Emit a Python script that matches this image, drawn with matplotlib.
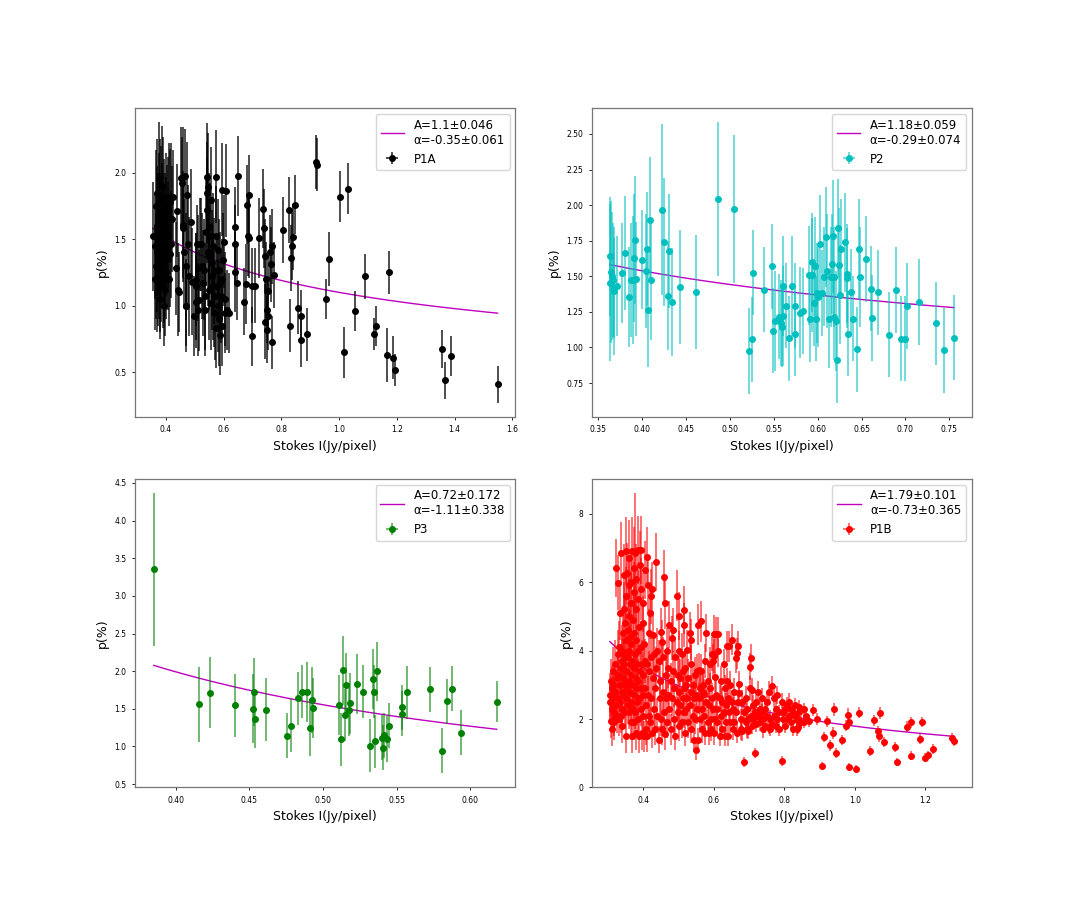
import numpy as np
import matplotlib
matplotlib.use("Agg")
import matplotlib.pyplot as plt
from matplotlib.colors import to_rgba

# ---------------- data ----------------
p1a_x = [0.355,0.361,0.363,0.365,0.366,0.368,0.369,0.370,0.371,0.372,
         0.373,0.375,0.376,0.377,0.378,0.379,0.380,0.381,0.382,0.383,
         0.384,0.386,0.387,0.388,0.389,0.390,0.391,0.392,0.393,0.394,
         0.395,0.396,0.397,0.398,0.400,0.401,0.402,0.404,0.405,0.407,
         0.408,0.409,0.410,0.412,0.414,0.416,0.417,0.419,0.421,0.423,
         0.436,0.439,0.441,0.444,0.452,0.455,0.459,0.461,0.461,0.464,
         0.467,0.469,0.469,0.471,0.473,0.476,0.480,0.486,0.489,
         0.499,0.503,0.504,0.506,0.509,0.511,0.513,0.515,0.519,0.522,
         0.526,0.530,0.533,0.535,0.537,0.539,0.541,0.542,0.543,0.545,
         0.546,0.548,0.549,0.551,0.553,0.555,0.557,0.559,0.561,0.563,
         0.564,0.566,0.568,0.570,0.572,0.574,0.575,0.577,0.579,0.581,
         0.583,0.585,0.587,0.589,0.591,0.593,0.595,0.596,0.599,0.602,
         0.604,0.605,0.607,0.611,0.617,
         0.638,0.640,0.640,0.648,0.649,0.671,0.676,0.682,0.684,0.689,
         0.689,0.698,0.700,0.708,0.721,0.736,0.739,0.743,0.744,0.746,
         0.749,0.751,0.753,0.755,0.761,0.764,0.766,0.769,0.776,0.806,
         0.826,0.830,0.835,0.837,0.839,0.849,0.858,0.869,0.869,0.889,
         0.919,0.924,0.955,0.965,1.002,1.018,1.032,1.056,1.091,1.121,
         1.127,1.165,1.174,1.188,1.195,1.357,1.367,1.386,1.549]
p1a_y = [1.52,1.20,1.45,1.75,1.30,1.60,1.10,1.85,1.40,1.55,
         1.25,1.95,1.65,1.35,1.15,1.50,1.80,1.05,1.70,1.45,
         1.28,1.90,1.62,1.38,1.18,1.55,1.82,1.48,1.00,1.70,
         1.32,1.60,1.12,1.42,1.75,1.25,1.52,1.40,1.66,1.72,
         1.35,1.53,1.82,1.20,1.39,1.78,1.82,1.46,1.65,1.82,
         1.28,1.715,1.12,1.10,1.96,1.92,1.61,1.58,1.965,1.40,
         1.975,1.295,1.00,1.00,1.83,1.46,1.22,1.63,1.18,
         0.92,1.145,1.195,1.03,1.46,1.285,0.97,1.04,1.46,1.46,
         1.30,1.17,1.27,1.07,0.97,1.55,1.97,1.72,1.85,1.895,
         1.40,1.595,1.37,1.12,1.52,1.02,1.795,1.32,1.22,1.45,
         1.145,1.07,1.26,0.945,1.97,0.83,1.52,1.15,1.00,1.42,
         1.27,0.90,1.17,0.78,1.07,1.87,1.20,0.845,1.345,1.48,
         1.05,0.945,1.865,0.97,0.945,
         1.59,1.46,1.25,1.17,1.975,1.03,1.165,1.76,1.52,1.51,
         1.83,0.77,1.15,1.15,1.51,1.73,1.58,1.37,0.88,1.20,
         0.97,0.82,1.11,0.92,1.40,1.31,0.725,1.445,1.23,1.57,
         1.72,0.85,1.36,1.445,1.515,1.76,0.985,0.92,0.74,0.785,
         2.08,2.06,1.05,1.35,1.82,0.65,1.88,0.96,1.22,0.79,
         0.85,0.63,1.25,0.61,0.52,0.675,0.44,0.62,0.41]
p1a_err = [0.41,0.38,0.40,0.42,0.40,0.45,0.30,0.40,0.45,0.45,
           0.40,0.43,0.50,0.45,0.35,0.50,0.45,0.30,0.50,0.40,
           0.40,0.45,0.45,0.40,0.35,0.45,0.45,0.40,0.30,0.40,
           0.45,0.40,0.35,0.40,0.40,0.35,0.45,0.40,0.40,0.40,
           0.38,0.40,0.40,0.35,0.40,0.40,0.40,0.40,0.40,0.35,
           0.35,0.35,0.35,0.30,0.38,0.35,0.40,0.40,0.38,0.40,
           0.35,0.40,0.35,0.30,0.40,0.45,0.45,0.40,0.40,
           0.30,0.40,0.35,0.35,0.30,0.40,0.35,0.38,0.35,0.35,
           0.40,0.40,0.38,0.40,0.35,0.40,0.40,0.40,0.38,0.40,
           0.40,0.40,0.40,0.38,0.40,0.35,0.40,0.40,0.40,0.40,
           0.40,0.38,0.40,0.35,0.35,0.30,0.38,0.35,0.35,0.38,
           0.38,0.35,0.38,0.30,0.35,0.35,0.30,0.30,0.35,0.35,
           0.35,0.30,0.35,0.30,0.30,
           0.30,0.30,0.30,0.28,0.30,0.25,0.30,0.30,0.30,0.30,
           0.30,0.22,0.28,0.28,0.30,0.30,0.30,0.28,0.28,0.28,
           0.25,0.25,0.28,0.25,0.28,0.28,0.20,0.28,0.25,0.25,
           0.25,0.20,0.25,0.25,0.25,0.22,0.20,0.20,0.20,0.20,
           0.20,0.20,0.15,0.20,0.19,0.19,0.19,0.15,0.17,0.12,
           0.15,0.20,0.16,0.16,0.12,0.14,0.14,0.15,0.14]

p2_x = [0.3640,0.3636,0.3650,0.3660,0.3670,0.3680,0.3690,0.3720,0.3780,0.3810,
        0.3860,0.3880,0.3900,0.3910,0.3920,0.3940,0.4000,0.4050,0.4060,0.4070,
        0.4090,0.4100,0.4230,0.4250,0.4300,0.4310,0.4350,0.4440,0.4620,0.4870,
        0.5050,0.5220,0.5250,0.5270,0.5390,0.5480,0.5490,0.5520,0.5560,0.5580,
        0.5590,0.5610,0.5610,0.5640,0.5680,0.5710,0.5740,0.5740,0.5800,0.5830,
        0.5900,0.5910,0.5940,0.5940,0.5960,0.5970,0.5980,0.5990,0.6010,0.6030,
        0.6050,0.6070,0.6100,0.6110,0.6130,0.6150,0.6160,0.6180,0.6190,0.6190,
        0.6210,0.6220,0.6230,0.6240,0.6250,0.6270,0.6310,0.6330,0.6340,0.6350,
        0.6380,0.6400,0.6450,0.6470,0.6480,0.6550,0.6610,0.6620,0.6690,0.6810,
        0.6890,0.6950,0.7000,0.7020,0.7155,0.7350,0.7440,0.7550]
p2_y = [1.640,1.456,1.530,1.500,1.477,1.395,1.420,1.430,1.523,1.664,
        1.355,1.472,1.472,1.628,1.752,1.480,1.617,1.535,1.692,1.262,
        1.897,1.472,1.967,1.738,1.360,1.680,1.322,1.423,1.388,2.044,
        1.972,0.974,1.056,1.526,1.407,1.570,1.119,1.185,1.217,1.173,
        1.142,1.220,1.432,1.294,1.065,1.432,1.294,1.098,1.243,1.255,
        1.507,1.197,1.598,1.507,1.313,1.570,1.203,1.383,1.355,1.724,
        1.383,1.498,1.776,1.537,1.203,1.493,1.586,1.780,1.493,1.215,
        1.185,0.911,1.836,1.577,1.372,1.692,1.738,1.519,1.488,1.096,
        1.393,1.203,0.986,1.692,1.493,1.622,1.414,1.208,1.388,1.089,
        1.404,1.061,1.061,1.290,1.320,1.170,0.979,1.068]
p2_err = [0.42,0.55,0.50,0.45,0.40,0.45,0.35,0.35,0.35,0.40,
          0.35,0.40,0.45,0.45,0.45,0.40,0.35,0.40,0.40,0.40,
          0.44,0.42,0.60,0.45,0.38,0.40,0.38,0.40,0.40,0.54,
          0.52,0.30,0.30,0.30,0.30,0.30,0.30,0.35,0.30,0.30,
          0.28,0.35,0.35,0.30,0.30,0.35,0.30,0.30,0.32,0.30,
          0.35,0.30,0.35,0.40,0.30,0.35,0.30,0.35,0.35,0.35,
          0.30,0.35,0.35,0.40,0.35,0.35,0.35,0.40,0.35,0.30,
          0.35,0.30,0.35,0.40,0.35,0.35,0.35,0.35,0.35,0.30,
          0.30,0.30,0.30,0.35,0.35,0.30,0.30,0.30,0.30,0.30,
          0.30,0.30,0.30,0.30,0.30,0.29,0.30,0.30]

p3_x = [0.385,0.416,0.4234,0.440,0.4525,0.453,0.4536,0.4614,0.4755,0.478,
        0.4827,0.4855,0.489,0.4914,0.4925,0.493,0.511,0.5123,0.5139,0.5148,
        0.5155,0.5177,0.518,0.523,0.527,0.5318,0.534,0.5343,0.535,0.537,
        0.5398,0.5407,0.5416,0.5434,0.5448,0.5534,0.5534,0.557,0.573,0.5809,
        0.5839,0.5873,0.5939,0.618]
p3_y = [3.35,1.562,1.712,1.549,1.50,1.721,1.367,1.487,1.146,1.274,
        1.642,1.726,1.726,1.248,1.619,1.513,1.549,1.093,2.013,1.42,
        1.823,1.491,1.571,1.832,1.726,1.013,1.898,1.73,1.07,1.996,
        1.115,0.982,1.15,1.10,1.274,1.522,1.438,1.717,1.761,0.942,
        1.602,1.765,1.181,1.597]
p3_err = [1.02,0.50,0.47,0.42,0.46,0.45,0.39,0.42,0.30,0.35,
          0.35,0.35,0.40,0.38,0.44,0.40,0.40,0.35,0.46,0.35,
          0.42,0.35,0.40,0.40,0.35,0.35,0.40,0.35,0.35,0.39,
          0.30,0.30,0.30,0.30,0.30,0.30,0.30,0.35,0.30,0.30,
          0.30,0.30,0.30,0.27]

# P1B: dense core (I <= 0.40)
p1b_x_core = [0.305,0.305,0.308,0.308,0.310,0.310,0.310,0.313,0.313,0.316,
              0.316,0.318,0.318,0.320,0.320,0.322,0.322,0.325,0.325,0.327,
              0.327,0.329,0.329,0.331,0.331,0.333,0.333,0.333,0.336,0.336,
              0.336,0.338,0.338,0.340,0.340,0.340,0.342,0.342,0.344,0.344,
              0.344,0.346,0.346,0.348,0.348,0.348,0.350,0.350,0.350,0.352,
              0.352,0.352,0.354,0.354,0.354,0.356,0.356,0.358,0.358,0.358,
              0.360,0.360,0.360,0.362,0.362,0.362,0.364,0.364,0.364,0.366,
              0.366,0.366,0.368,0.368,0.368,0.370,0.370,0.370,0.372,0.372,
              0.372,0.374,0.374,0.374,0.376,0.376,0.376,0.378,0.378,0.378,
              0.380,0.380,0.380,0.382,0.382,0.384,0.384,0.384,0.386,0.386,
              0.388,0.388,0.388,0.390,0.390,0.392,0.392,0.394,0.394,0.394,
              0.396,0.396,0.398,0.398,0.400,0.400,0.400]
p1b_y_core = [2.7,2.5,1.95,3.1,2.3,2.9,1.7,2.6,3.4,2.0,
              2.2,3.0,1.9,2.8,3.6,2.4,6.4,3.2,2.1,5.98,
              3.9,2.6,3.3,2.0,4.1,5.1,3.0,2.5,6.84,3.5,
              2.1,4.0,2.8,3.7,2.3,1.8,4.5,3.2,5.2,2.7,
              3.9,6.2,3.6,4.8,2.2,3.0,6.9,4.3,2.6,5.6,
              3.4,1.5,6.25,3.8,2.9,4.6,2.4,5.9,3.1,4.0,
              6.7,5.0,2.2,4.4,3.6,2.8,6.0,3.3,1.9,5.4,
              4.2,2.5,6.9,3.7,1.5,4.9,3.0,2.3,6.4,5.7,
              3.5,4.5,2.7,1.9,6.86,3.9,2.2,5.2,3.2,2.9,
              4.3,6.1,1.6,3.6,2.5,5.5,4.0,2.0,6.93,3.1,
              4.7,2.6,1.5,6.5,3.4,5.8,2.3,6.93,4.1,2.9,
              3.6,1.6,4.8,2.7,3.3,2.1,5.4]
p1b_e_core = [0.65,0.6,0.5,0.65,0.5,0.65,0.5,0.65,0.7,0.5,
              0.5,0.65,0.5,0.65,0.7,0.5,0.85,0.65,0.5,0.8,
              0.7,0.6,0.65,0.5,0.75,0.8,0.65,0.6,0.9,0.7,
              0.5,0.75,0.65,0.7,0.5,0.5,0.8,0.65,0.8,0.6,
              0.7,0.9,0.7,0.8,0.5,0.65,1.0,0.8,0.6,0.85,
              0.65,0.5,0.9,0.7,0.6,0.8,0.55,0.9,0.65,0.75,
              1.1,0.8,0.5,0.8,0.7,0.6,0.9,0.65,0.5,0.85,
              0.75,0.55,1.0,0.7,0.5,0.8,0.65,0.5,1.2,0.9,
              0.7,0.8,0.6,0.5,1.75,0.7,0.5,0.85,0.65,0.6,
              0.8,1.0,0.5,0.7,0.55,0.85,0.75,0.5,1.0,0.65,
              0.8,0.6,0.5,1.0,0.65,0.9,0.5,1.0,0.75,0.6,
              0.7,0.5,0.8,0.6,0.65,0.5,0.85]

# P1B: middle (0.40 - 0.60)
p1b_x_mid = [0.402,0.402,0.405,0.405,0.405,0.408,0.408,0.411,0.411,0.411,
             0.413,0.413,0.416,0.416,0.416,0.419,0.419,0.421,0.421,0.421,
             0.424,0.424,0.427,0.427,0.430,0.430,0.433,0.433,0.437,0.437,
             0.440,0.440,0.443,0.443,0.446,0.446,0.449,0.449,0.453,0.453,
             0.456,0.456,0.458,0.458,0.460,0.460,0.463,0.463,0.466,0.466,
             0.470,0.470,0.474,0.474,0.477,0.477,0.480,0.480,0.483,0.483,
             0.487,0.487,0.490,0.490,0.494,0.494,0.497,0.497,0.500,0.500,
             0.501,0.501,0.505,0.505,0.509,0.509,0.512,0.512,0.514,0.514,
             0.516,0.516,0.519,0.519,0.522,0.522,0.524,0.524,0.527,0.527,
             0.531,0.531,0.534,0.534,0.536,0.536,0.540,0.540,0.543,0.543,
             0.546,0.546,0.549,0.549,0.552,0.552,0.555,0.555,0.558,0.558,
             0.561,0.561,0.564,0.564,0.567,0.567,0.570,0.570,0.573,0.573,
             0.576,0.576,0.579,0.579,0.582,0.582,0.585,0.585,0.588,0.588,
             0.591,0.591,0.594,0.594,0.597,0.597,0.600,0.600,0.600]
p1b_y_mid = [4.2,1.5,6.35,2.9,3.7,2.4,1.7,6.72,3.6,1.5,
             5.92,2.7,4.5,3.4,2.1,5.1,1.9,5.58,3.8,2.6,
             5.8,1.6,4.44,3.2,2.3,3.9,2.9,1.7,6.58,3.5,
             2.1,4.0,3.7,1.4,2.6,3.1,4.54,2.0,4.24,1.7,
             3.8,2.8,6.14,2.2,5.39,1.55,3.3,2.6,4.0,1.9,
             2.7,3.5,4.76,2.3,3.1,1.7,4.37,2.6,4.6,3.4,
             2.0,2.9,3.8,1.5,5.6,2.5,3.3,2.2,3.98,1.8,
             5.01,2.8,3.2,2.4,3.9,1.9,2.6,3.4,5.19,2.2,
             4.74,2.9,3.5,1.6,2.3,3.0,4.01,2.6,1.9,3.2,
             4.52,2.4,2.8,1.7,4.32,3.6,2.1,3.0,2.6,1.4,
             3.3,2.0,1.1,2.7,3.4,2.3,4.76,1.4,3.43,2.6,
             2.0,2.9,3.4,4.86,2.3,1.7,2.8,3.0,2.73,2.1,
             3.7,1.6,4.52,2.5,1.9,3.1,2.4,1.6,2.9,3.6,
             2.0,1.7,3.9,2.6,3.68,2.3,4.49,1.6,3.83]
p1b_e_mid = [0.7,0.45,0.85,0.6,0.65,0.5,0.45,0.9,0.6,0.45,
             0.8,0.55,0.7,0.6,0.5,0.75,0.45,0.8,0.6,0.55,
             0.8,0.45,0.7,0.6,0.5,0.65,0.55,0.45,0.85,0.6,
             0.5,0.65,0.6,0.4,0.55,0.6,0.7,0.5,0.65,0.45,
             0.6,0.55,0.8,0.5,0.75,0.45,0.6,0.5,0.65,0.45,
             0.5,0.6,0.7,0.5,0.55,0.45,0.65,0.5,0.65,0.6,
             0.45,0.55,0.6,0.4,0.75,0.5,0.55,0.45,0.6,0.45,
             0.7,0.5,0.55,0.5,0.6,0.45,0.5,0.55,0.7,0.45,
             0.65,0.5,0.55,0.4,0.45,0.5,0.6,0.5,0.45,0.55,
             0.6,0.45,0.5,0.4,0.6,0.55,0.45,0.5,0.5,0.35,
             0.5,0.45,0.3,0.5,0.5,0.45,0.6,0.35,0.5,0.45,
             0.4,0.5,0.5,0.6,0.45,0.4,0.5,0.5,0.45,0.4,
             0.5,0.35,0.55,0.45,0.4,0.5,0.45,0.35,0.45,0.5,
             0.4,0.35,0.5,0.45,0.5,0.4,0.55,0.35,0.5]

# P1B: outer (0.60 - 0.89)
p1b_x_out = [0.603,0.603,0.607,0.607,0.610,0.610,0.613,0.613,0.617,0.617,
             0.620,0.620,0.624,0.624,0.628,0.628,0.631,0.631,0.634,0.634,
             0.636,0.636,0.640,0.640,0.644,0.644,0.647,0.647,0.650,0.650,
             0.654,0.654,0.658,0.658,0.662,0.662,0.665,0.665,0.669,0.669,
             0.672,0.672,0.676,0.676,0.680,0.680,0.685,0.685,0.690,0.690,
             0.694,0.694,0.697,0.697,0.703,0.703,0.705,0.705,0.708,0.708,
             0.712,0.712,0.717,0.717,0.720,0.720,0.725,0.725,0.730,0.730,
             0.735,0.735,0.740,0.740,0.745,0.745,0.750,0.750,0.755,0.755,
             0.760,0.760,0.766,0.766,0.770,0.770,0.775,0.775,0.780,0.780,
             0.785,0.785,0.792,0.792,0.797,0.797,0.803,0.803,0.808,0.808,
             0.813,0.813,0.818,0.818,0.824,0.824,0.830,0.830,0.837,0.837,
             0.839,0.839,0.842,0.842,0.848,0.855,0.856,0.862,0.871,0.882]
p1b_y_out = [3.24,2.0,4.47,2.7,2.3,1.9,4.49,3.98,2.6,1.5,
             3.1,2.1,2.5,1.7,3.6,2.2,1.5,2.9,2.4,1.9,
             4.12,3.1,1.5,2.6,4.12,2.2,1.9,3.0,4.32,2.5,
             1.7,2.3,2.8,1.9,3.78,2.2,3.92,1.6,4.12,2.5,
             3.01,2.76,2.0,1.7,2.5,1.66,0.74,2.2,1.9,2.6,
             2.3,1.7,1.66,2.0,3.53,2.9,3.78,2.1,2.84,1.8,
             2.4,2.0,1.0,2.2,1.86,2.5,2.8,2.1,1.9,2.3,
             2.2,2.6,1.7,2.0,2.3,1.8,2.1,2.5,1.76,2.8,
             2.0,1.7,1.86,2.96,2.6,2.1,2.3,1.8,2.0,2.7,
             2.2,1.7,0.77,2.5,2.0,2.2,2.3,1.8,2.0,2.4,
             2.5,2.1,1.9,2.3,2.2,1.7,2.1,2.4,1.97,1.7,
             1.76,2.0,2.35,2.2,1.9,1.92,2.28,2.1,1.94,2.27]
p1b_e_out = [0.45,0.4,0.5,0.45,0.4,0.35,0.5,0.45,0.4,0.3,
             0.45,0.35,0.4,0.3,0.45,0.35,0.3,0.4,0.35,0.3,
             0.45,0.4,0.3,0.35,0.45,0.35,0.3,0.4,0.45,0.35,
             0.3,0.35,0.4,0.3,0.45,0.35,0.45,0.3,0.45,0.35,
             0.4,0.35,0.3,0.3,0.35,0.3,0.15,0.3,0.3,0.35,
             0.3,0.25,0.25,0.3,0.4,0.35,0.4,0.3,0.35,0.25,
             0.3,0.25,0.15,0.3,0.25,0.3,0.3,0.25,0.25,0.3,
             0.25,0.3,0.25,0.25,0.25,0.2,0.25,0.3,0.2,0.3,
             0.25,0.2,0.2,0.3,0.25,0.2,0.25,0.2,0.2,0.25,
             0.2,0.2,0.15,0.25,0.2,0.2,0.2,0.2,0.2,0.25,
             0.25,0.2,0.2,0.2,0.2,0.2,0.2,0.2,0.2,0.2,
             0.2,0.2,0.2,0.2,0.18,0.18,0.2,0.18,0.18,0.18]

# P1B: sparse tail (> 0.89)
p1b_x_far = [0.891,0.908,0.911,0.922,0.928,0.937,0.942,0.947,0.964,0.974,
             0.979,0.984,0.984,1.004,1.011,1.042,1.053,1.065,1.067,1.071,
             1.082,1.113,1.118,1.149,1.160,1.160,1.184,1.190,1.199,1.206,
             1.222,1.275,1.280]
p1b_y_far = [2.0,0.63,1.48,1.94,1.23,1.6,2.28,1.0,1.39,1.81,
             2.13,1.92,0.59,0.53,2.18,1.07,1.96,1.64,1.49,2.17,
             1.33,1.19,0.74,1.78,1.91,0.93,1.41,1.92,0.87,0.95,
             1.13,1.46,1.35]
p1b_e_far = [0.18,0.12,0.15,0.16,0.15,0.17,0.18,0.15,0.15,0.17,
             0.18,0.17,0.12,0.12,0.16,0.14,0.16,0.15,0.15,0.17,
             0.15,0.14,0.12,0.16,0.16,0.13,0.15,0.15,0.13,0.13,
             0.14,0.13,0.13]

# fit parameters (p = A * I^alpha) shown in legends
names = ["P1A", "P2", "P3", "P1B"]
fit_A = [1.1, 1.18, 0.72, 1.79]
fit_A_err = [0.046, 0.059, 0.172, 0.101]
fit_alpha = [-0.35, -0.29, -1.11, -0.73]
fit_alpha_err = [0.061, 0.074, 0.338, 0.365]
x_err = [0.002, 0.001, 0.001, 0.003]

# ---------------- plot ----------------
p1b_x = p1b_x_core + p1b_x_mid + p1b_x_out + p1b_x_far
p1b_y = p1b_y_core + p1b_y_mid + p1b_y_out + p1b_y_far
p1b_err = p1b_e_core + p1b_e_mid + p1b_e_out + p1b_e_far

series = [(p1a_x, p1a_y, p1a_err), (p2_x, p2_y, p2_err),
          (p3_x, p3_y, p3_err), (p1b_x, p1b_y, p1b_err)]
colors = ["k", "c", "g", "r"]
ealpha = [0.75, 0.6, 0.6, 0.6]

fig, axes = plt.subplots(2, 2, figsize=(10.8, 9.0), dpi=100)
fig.subplots_adjust(left=0.125, right=0.9, bottom=0.125, top=0.88,
                    wspace=0.2, hspace=0.2)

for i, ax in enumerate(axes.flat):
    x, y, e = (np.asarray(v, dtype=float) for v in series[i])
    xx = np.linspace(x.min(), x.max(), 200)
    ax.plot(xx, fit_A[i] * xx ** fit_alpha[i], color="m", lw=1.0,
            label=f"A={fit_A[i]}\u00b1{fit_A_err[i]}\n\u03b1={fit_alpha[i]}\u00b1{fit_alpha_err[i]}")
    ax.errorbar(x, y, yerr=e, xerr=x_err[i], fmt="o", color=colors[i],
                ecolor=to_rgba(colors[i], ealpha[i]), ms=4, elinewidth=1.3,
                capsize=0, label=names[i])
    ax.set_xlabel("Stokes I(Jy/pixel)", fontsize=9)
    ax.set_ylabel("p(%)", fontsize=9)
    ax.tick_params(labelsize=5.5, length=2.5, width=0.6)
    for s in ax.spines.values():
        s.set_color("#777777")
        s.set_linewidth(0.9)
    ax.legend(loc="upper right", fontsize=8.5, handlelength=2.0,
              labelspacing=0.5, borderpad=0.4)

fig.savefig("out.png", dpi=100)
